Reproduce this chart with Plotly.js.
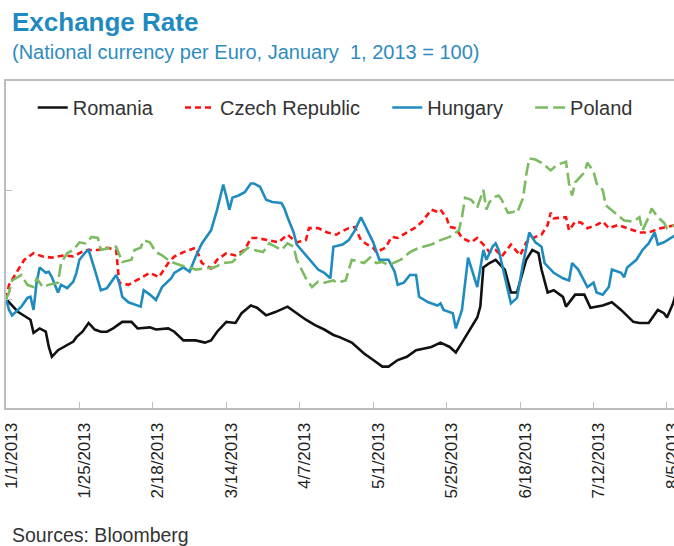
<!DOCTYPE html>
<html>
<head>
<meta charset="utf-8">
<script src="https://cdn.plot.ly/plotly-3.0.1.min.js"></script>
<style>html,body{margin:0;padding:0;background:#fff;}#chart{width:674px;height:546px;}</style>
</head>
<body>
<div id="chart"></div>
<script>
var romaniaDates = ['2013-01-01','2013-01-05','2013-01-09','2013-01-10','2013-01-12','2013-01-14','2013-01-15','2013-01-16','2013-01-18','2013-01-21','2013-01-23','2013-01-24','2013-01-26','2013-01-28','2013-01-30','2013-02-01','2013-02-03','2013-02-05','2013-02-08','2013-02-11','2013-02-13','2013-02-17','2013-02-19','2013-02-23','2013-02-25','2013-02-28','2013-03-04','2013-03-07','2013-03-09','2013-03-11','2013-03-14','2013-03-17','2013-03-19','2013-03-22','2013-03-24','2013-03-27','2013-03-30','2013-04-03','2013-04-06','2013-04-09','2013-04-12','2013-04-15','2013-04-18','2013-04-20','2013-04-24','2013-04-28','2013-05-01','2013-05-04','2013-05-06','2013-05-09','2013-05-12','2013-05-15','2013-05-20','2013-05-23','2013-05-26','2013-05-28','2013-05-30','2013-06-02','2013-06-04','2013-06-05','2013-06-06','2013-06-08','2013-06-10','2013-06-13','2013-06-15','2013-06-17','2013-06-20','2013-06-22','2013-06-24','2013-06-25','2013-06-27','2013-06-29','2013-07-02','2013-07-03','2013-07-06','2013-07-09','2013-07-11','2013-07-15','2013-07-18','2013-07-21','2013-07-25','2013-07-27','2013-07-30','2013-08-02','2013-08-04','2013-08-05','2013-08-07','2013-08-08'];
var romaniaValues = [100,98.8,98.1,96.9,97.3,97.0,95.6,94.7,95.3,95.8,96.1,96.5,97.0,97.8,97.2,97.0,97.0,97.3,97.9,97.9,97.3,97.4,97.2,97.3,97.0,96.2,96.2,96.0,96.2,97.0,97.9,97.8,98.7,99.4,99.2,98.5,98.8,99.3,98.7,98.1,97.6,97.2,96.7,96.5,96.0,95.0,94.4,93.8,93.8,94.4,94.7,95.3,95.6,96.0,95.6,95.1,96.0,97.4,98.3,99.3,102.9,103.3,103.6,102.7,100.6,100.6,103.6,104.5,104.2,102.7,100.6,100.8,100.2,99.3,100.4,100.4,99.2,99.4,99.7,99.0,97.9,97.8,97.8,99.0,98.7,98.3,99.6,100.6];

var czechDates = ['2013-01-01','2013-01-02','2013-01-05','2013-01-07','2013-01-10','2013-01-13','2013-01-16','2013-01-20','2013-01-23','2013-01-27','2013-01-31','2013-02-03','2013-02-06','2013-02-07','2013-02-10','2013-02-14','2013-02-17','2013-02-20','2013-02-23','2013-02-25','2013-02-28','2013-03-04','2013-03-06','2013-03-09','2013-03-11','2013-03-14','2013-03-17','2013-03-20','2013-03-22','2013-03-24','2013-03-28','2013-03-31','2013-04-03','2013-04-06','2013-04-09','2013-04-10','2013-04-13','2013-04-16','2013-04-19','2013-04-20','2013-04-23','2013-04-25','2013-04-27','2013-04-29','2013-05-01','2013-05-02','2013-05-05','2013-05-07','2013-05-09','2013-05-12','2013-05-15','2013-05-17','2013-05-20','2013-05-22','2013-05-23','2013-05-25','2013-05-26','2013-05-28','2013-05-30','2013-06-02','2013-06-04','2013-06-06','2013-06-08','2013-06-10','2013-06-12','2013-06-15','2013-06-16','2013-06-18','2013-06-20','2013-06-23','2013-06-25','2013-06-27','2013-06-28','2013-06-29','2013-07-03','2013-07-04','2013-07-06','2013-07-08','2013-07-10','2013-07-13','2013-07-15','2013-07-17','2013-07-20','2013-07-23','2013-07-27','2013-07-30','2013-08-01','2013-08-03','2013-08-08'];
var czechValues = [100,101.3,102.7,103.6,104.2,103.9,103.8,104.0,103.9,104.5,104.5,104.7,104.5,101.5,101.3,101.9,102.4,102.0,103.3,103.9,104.3,104.7,103.3,102.8,103.6,104.2,104.0,104.5,105.6,105.6,105.4,105.2,105.9,105.2,105.4,106.5,106.5,106.1,105.9,106.1,106.5,106.6,105.4,105.0,104.7,104.3,104.7,105.7,105.6,106.1,106.6,107.1,108.2,108.0,108.2,107.4,106.6,106.5,105.6,105.2,105.6,105.0,104.3,104.5,103.9,105.0,104.7,104.0,105.2,105.7,105.9,106.8,107.9,107.4,107.5,106.3,107.1,107.0,106.5,106.8,107.1,106.5,106.8,106.5,106.1,106.1,106.3,106.5,106.8];

var hungaryDates = ['2013-01-01','2013-01-02','2013-01-03','2013-01-06','2013-01-08','2013-01-09','2013-01-10','2013-01-11','2013-01-12','2013-01-14','2013-01-15','2013-01-16','2013-01-18','2013-01-19','2013-01-21','2013-01-23','2013-01-24','2013-01-25','2013-01-27','2013-01-28','2013-01-30','2013-02-01','2013-02-03','2013-02-06','2013-02-07','2013-02-08','2013-02-10','2013-02-14','2013-02-15','2013-02-17','2013-02-19','2013-02-21','2013-02-24','2013-02-25','2013-02-28','2013-03-02','2013-03-04','2013-03-06','2013-03-08','2013-03-09','2013-03-11','2013-03-13','2013-03-14','2013-03-15','2013-03-16','2013-03-18','2013-03-20','2013-03-22','2013-03-23','2013-03-25','2013-03-27','2013-03-29','2013-04-01','2013-04-02','2013-04-03','2013-04-05','2013-04-06','2013-04-09','2013-04-11','2013-04-13','2013-04-15','2013-04-17','2013-04-18','2013-04-21','2013-04-23','2013-04-25','2013-04-27','2013-04-29','2013-05-01','2013-05-03','2013-05-06','2013-05-08','2013-05-09','2013-05-11','2013-05-13','2013-05-15','2013-05-16','2013-05-19','2013-05-22','2013-05-23','2013-05-24','2013-05-27','2013-05-28','2013-05-30','2013-06-01','2013-06-02','2013-06-04','2013-06-06','2013-06-07','2013-06-09','2013-06-10','2013-06-11','2013-06-13','2013-06-15','2013-06-17','2013-06-19','2013-06-21','2013-06-23','2013-06-25','2013-06-26','2013-06-29','2013-07-02','2013-07-04','2013-07-05','2013-07-07','2013-07-09','2013-07-10','2013-07-12','2013-07-13','2013-07-15','2013-07-17','2013-07-18','2013-07-21','2013-07-22','2013-07-23','2013-07-26','2013-07-28','2013-07-30','2013-08-01','2013-08-02','2013-08-04','2013-08-08'];
var hungaryValues = [100,99.0,98.5,99.3,100.1,100.2,99.0,101.5,102.9,102.4,102.5,102.0,100.6,101.3,101.0,101.6,102.4,103.6,104.3,104.5,102.7,100.8,101.0,102.2,101.5,100.2,99.7,99.3,100.8,100.4,99.9,101.1,101.9,102.4,102.9,102.5,103.9,105.1,105.9,106.3,108.2,110.5,109.4,108.2,109.3,109.5,109.8,110.6,110.6,110.3,109.1,108.9,108.8,108.3,107.5,106.1,105.0,104.0,103.4,102.7,102.4,101.9,104.8,105.0,105.4,106.3,107.5,106.3,105.2,103.6,103.6,102.5,101.3,101.5,102.2,102.2,100.2,99.7,99.4,99.6,99.0,98.7,97.3,99.0,103.8,102.9,101.1,104.5,103.6,104.8,105.1,104.5,102.0,99.6,100.1,103.3,106.1,105.2,104.8,103.3,102.4,101.9,101.7,103.3,102.7,101.6,101.1,101.5,100.6,100.4,101.1,102.7,102.4,102.0,102.9,103.6,104.5,105.1,106.1,105.0,105.2,105.9];

var polandDates = ['2013-01-01','2013-01-02','2013-01-03','2013-01-06','2013-01-08','2013-01-10','2013-01-11','2013-01-13','2013-01-15','2013-01-18','2013-01-19','2013-01-21','2013-01-23','2013-01-25','2013-01-27','2013-01-29','2013-01-31','2013-02-01','2013-02-04','2013-02-06','2013-02-08','2013-02-11','2013-02-12','2013-02-14','2013-02-15','2013-02-17','2013-02-19','2013-02-21','2013-02-24','2013-02-27','2013-03-02','2013-03-04','2013-03-07','2013-03-10','2013-03-13','2013-03-16','2013-03-19','2013-03-21','2013-03-23','2013-03-26','2013-03-28','2013-03-30','2013-04-01','2013-04-03','2013-04-05','2013-04-06','2013-04-09','2013-04-11','2013-04-13','2013-04-15','2013-04-18','2013-04-19','2013-04-22','2013-04-24','2013-04-28','2013-04-30','2013-05-02','2013-05-04','2013-05-06','2013-05-10','2013-05-13','2013-05-16','2013-05-20','2013-05-23','2013-05-26','2013-05-29','2013-05-30','2013-05-31','2013-06-02','2013-06-04','2013-06-06','2013-06-07','2013-06-08','2013-06-10','2013-06-11','2013-06-12','2013-06-14','2013-06-16','2013-06-17','2013-06-19','2013-06-20','2013-06-21','2013-06-23','2013-06-25','2013-06-28','2013-06-30','2013-07-03','2013-07-04','2013-07-05','2013-07-06','2013-07-09','2013-07-10','2013-07-12','2013-07-13','2013-07-15','2013-07-16','2013-07-19','2013-07-22','2013-07-25','2013-07-27','2013-07-28','2013-07-30','2013-07-31','2013-08-02','2013-08-04','2013-08-05','2013-08-08'];
var polandValues = [100,100.6,101.7,102.2,101.3,101.1,101.9,101.1,101.3,101.5,103.3,104.2,104.5,105.2,105.1,105.7,105.6,104.5,104.7,104.8,103.4,103.6,104.5,104.7,105.4,105.2,104.3,104.0,103.4,103.1,102.9,102.7,102.8,102.9,103.3,103.4,104.2,104.7,104.5,104.3,105.1,104.8,104.5,105.1,104.8,103.6,101.9,101.1,101.6,101.5,101.7,101.5,101.7,103.6,103.3,103.8,103.3,103.4,103.1,103.6,104.3,104.7,105.0,105.4,105.7,106.3,107.5,109.3,109.1,108.4,110.0,108.2,108.9,109.4,109.5,109.1,107.9,108.0,107.9,109.3,111.4,112.9,112.8,112.5,111.8,112.3,112.6,110.6,109.5,110.7,111.6,112.5,111.7,110.6,110.0,108.6,107.9,107.2,107.1,107.5,106.3,107.5,108.3,107.5,107.0,106.5,106.8];

var seriesNames = ['Romania', 'Czech Republic', 'Hungary', 'Poland'];
var xTickStart = '2013-01-01';
var xTickStepDays = 24;
var xRange = ['2013-01-01', '2013-08-07 07:00'];
var yRange = [90, 120];

var FONT = 'Liberation Sans, Arial, sans-serif';
var PAD = '&nbsp;&nbsp;&nbsp;&nbsp;';

var traces = [
  {x: romaniaDates, y: romaniaValues, name: seriesNames[0] + PAD, type: 'scatter', mode: 'lines',
   line: {color: '#111111', width: 2.6}},
  {x: czechDates, y: czechValues, name: seriesNames[1] + PAD, type: 'scatter', mode: 'lines',
   line: {color: '#ff1010', width: 2.6, dash: '6px,4px'}},
  {x: hungaryDates, y: hungaryValues, name: seriesNames[2] + PAD, type: 'scatter', mode: 'lines',
   line: {color: '#1f8bbf', width: 2.6}},
  {x: polandDates, y: polandValues, name: seriesNames[3], type: 'scatter', mode: 'lines',
   line: {color: '#7dbb62', width: 2.6, dash: '13px,5px'}}
];

var layout = {
  width: 674, height: 546,
  margin: {l: 6, r: 0, t: 81, b: 138, pad: 0},
  paper_bgcolor: '#ffffff', plot_bgcolor: '#ffffff',
  showlegend: true,
  legend: {orientation: 'h', x: 0.04, y: 1 - 7/327, xanchor: 'left', yanchor: 'top',
           font: {family: FONT, size: 20, color: '#333333'}, bgcolor: 'rgba(0,0,0,0)'},
  title: {text: '<b>Exchange Rate</b>', xref: 'container', yref: 'container',
          x: 12/674, xanchor: 'left', y: 1 - 22/546, yanchor: 'middle',
          font: {family: FONT, size: 26, color: '#1f8ac0'}},
  xaxis: {type: 'date', range: xRange, tick0: xTickStart, dtick: xTickStepDays * 86400000,
          tickformat: '%-m/%-d/%Y', tickangle: -90, ticks: 'inside', ticklen: 6,
          tickcolor: '#bdbdbd', tickwidth: 1, showline: true, linecolor: '#bdbdbd', linewidth: 2,
          mirror: true, showgrid: false, zeroline: false, ticklabeloverflow: 'allow',
          ticklabelstandoff: 6, ticklabelshift: 5,
          tickfont: {family: FONT, size: 17, color: '#222222'}},
  yaxis: {range: yRange, tick0: 90, dtick: 10, ticks: 'inside', ticklen: 6, tickcolor: '#bdbdbd',
          tickwidth: 1, showticklabels: false, showline: true, linecolor: '#bdbdbd', linewidth: 2,
          showgrid: false, zeroline: false},
  annotations: [
    {text: '(National currency per Euro, January&nbsp;&nbsp;1, 2013 = 100)', xref: 'paper', yref: 'paper',
     x: 4/668, y: (408 - 52) / 327, xanchor: 'left', yanchor: 'middle', showarrow: false,
     font: {family: FONT, size: 20, color: '#2f8cc0'}},
    {text: 'Sources: Bloomberg', xref: 'paper', yref: 'paper',
     x: 4/668, y: (408 - 535) / 327, xanchor: 'left', yanchor: 'middle', showarrow: false,
     font: {family: FONT, size: 19.5, color: '#333333'}}
  ]
};

Plotly.newPlot('chart', traces, layout, {displayModeBar: false, staticPlot: true});
</script>
</body>
</html>
